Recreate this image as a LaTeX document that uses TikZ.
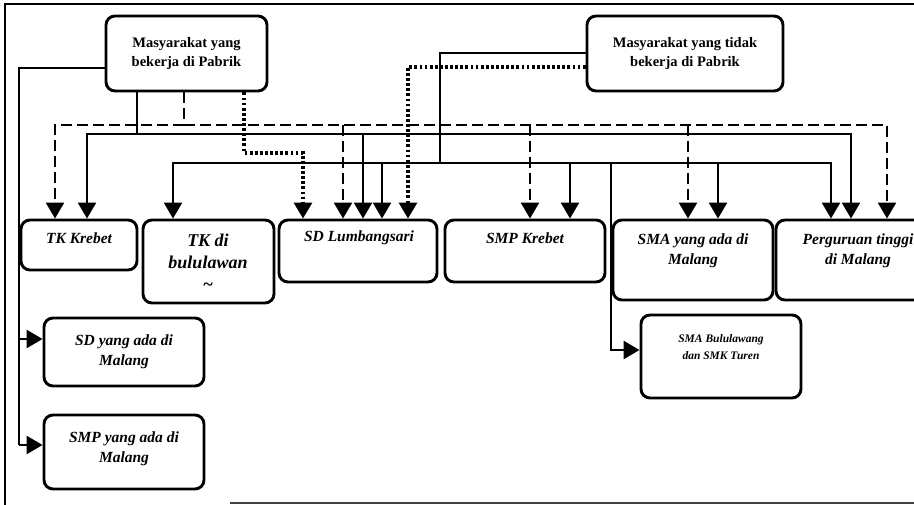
\documentclass[tikz,border=0pt]{standalone}
\usepackage{fontspec}
\setmainfont{Liberation Serif}
\usetikzlibrary{arrows.meta}
\tikzset{
  box/.style={draw, line width=2.9pt, rounded corners=9pt, inner sep=0pt},
  head/.style={align=center, inner sep=0pt, font={\fontsize{14.5}{19.5}\selectfont\bfseries}},
  tx/.style={align=center, inner sep=0pt, font={\fontsize{15.5}{19.5}\selectfont\bfseries\itshape}},
  conn/.style={line width=2.6pt},
  arr/.style={conn, -{Triangle[width=18pt,length=16pt]}},
  dsh/.style={conn, dash pattern=on 11pt off 5pt},
  dsharr/.style={dsh, -{Triangle[width=18pt,length=16pt]}},
  dot/.style={line width=3.2pt, dash pattern=on 2.8pt off 2.3pt},
  dotarr/.style={dot, -{Triangle[width=18pt,length=16pt]}},
  frame/.style={line width=2pt}
}
\begin{document}
\begin{tikzpicture}[x=1pt,y=-1pt]
\useasboundingbox (0,0) rectangle (914,505);
% frame
\draw[frame] (914,4) -- (5,4) -- (5,505);
\draw[line width=1.5pt, black!75] (230,503) -- (914,503);

% boxes
\node[box, minimum width=161pt, minimum height=75pt, head] (n1) at (186.5,53.5) {Masyarakat yang\\bekerja di Pabrik};
\node[box, minimum width=196pt, minimum height=75pt, head] (n2) at (685,53.5) {Masyarakat yang tidak\\bekerja di Pabrik};
\node[box, minimum width=116pt, minimum height=50pt] (tkk) at (79,245) {};
\node[box, minimum width=131pt, minimum height=83pt] (tkb) at (208.5,261.5) {};
\node[box, minimum width=158pt, minimum height=62pt] (sdl) at (358,251) {};
\node[box, minimum width=160pt, minimum height=62pt] (smpk) at (525,251) {};
\node[box, minimum width=160pt, minimum height=80pt] (sma) at (693,260) {};
\node[box, minimum width=164pt, minimum height=80pt] (pt) at (858,260) {};
\node[box, minimum width=160pt, minimum height=68pt] (sdm) at (124,352) {};
\node[box, minimum width=160pt, minimum height=74pt] (smpm) at (124,452) {};
\node[box, minimum width=160pt, minimum height=83pt] (smab) at (721,356.5) {};

% texts
\node[tx] (tkk-t) at (79,238) {TK Krebet};
\node[tx, font={\fontsize{18}{22}\selectfont\bfseries\itshape}] (tkb-t) at (208,262) {TK di\\bululawan\\\textasciitilde};
\node[tx] (sdl-t) at (359,238) {SD Lumbangsari};
\node[tx] (smpk-t) at (525,238) {SMP Krebet};
\node[tx] (sma-t) at (693,251) {SMA yang ada di\\Malang};
\node[tx] (pt-t) at (858,251) {Perguruan tinggi\\di Malang};
\node[tx] (sdm-t) at (124,352) {SD yang ada di\\Malang};
\node[tx] (smpm-t) at (124,449) {SMP yang ada di\\Malang};
\node[tx, font={\fontsize{11.5}{17}\selectfont\bfseries\itshape}] (smab-t) at (721,347) {SMA Bululawang\\dan SMK Turen};

% junction coordinates
\coordinate (j1) at (19,68);
\coordinate (j2) at (19,339);
\coordinate (j3) at (19,445);
\coordinate (s1) at (137,134);
\coordinate (a87) at (87,134);
\coordinate (a363) at (363,134);
\coordinate (a851) at (851,134);
\coordinate (s2) at (440,53);
\coordinate (s2b) at (440,163);
\coordinate (b173) at (173,163);
\coordinate (b382) at (382,163);
\coordinate (b570) at (570,163);
\coordinate (b611) at (611,163);
\coordinate (b611e) at (611,350);
\coordinate (b718) at (718,163);
\coordinate (b831) at (831,163);
\coordinate (d1) at (184,125);
\coordinate (d55) at (55,125);
\coordinate (d343) at (343,125);
\coordinate (d530) at (530,125);
\coordinate (d688) at (688,125);
\coordinate (d887) at (887,125);
\coordinate (p1) at (244,153);
\coordinate (p1e) at (303,153);
\coordinate (p2) at (408,67);

% left branch of n1
\draw[conn] (n1.west |- j1) -- (j1) -- (j3);
\draw[arr] (j2) -- (sdm.west |- j2);
\draw[arr] (j3) -- (smpm.west |- j3);

% n1 solid
\draw[conn] (n1.south -| s1) -- (s1);
\draw[arr] (s1) -- (a87) -- (tkk.north -| a87);
\draw[arr] (s1) -- (a851) -- (pt.north -| a851);
\draw[arr] (a363) -- (sdl.north -| a363);

% n2 solid
\draw[conn] (n2.west |- s2) -- (s2) -- (s2b);
\draw[arr] (s2b) -- (b173) -- (tkb.north -| b173);
\draw[arr] (s2b) -- (b831) -- (pt.north -| b831);
\draw[arr] (b382) -- (sdl.north -| b382);
\draw[arr] (b570) -- (smpk.north -| b570);
\draw[arr] (b718) -- (sma.north -| b718);
\draw[arr] (b611) -- (b611e) -- (smab.west |- b611e);

% n1 dashed
\draw[dsh] (n1.south -| d1) -- (d1);
\draw[dsharr] (d1) -- (d55) -- (tkk.north -| d55);
\draw[dsharr] (d1) -- (d887) -- (pt.north -| d887);
\draw[dsharr] (d343) -- (sdl.north -| d343);
\draw[dsharr] (d530) -- (smpk.north -| d530);
\draw[dsharr] (d688) -- (sma.north -| d688);

% dotted
\draw[dotarr] (n1.south -| p1) -- (p1) -- (p1e) -- (sdl.north -| p1e);
\draw[dotarr] (n2.west |- p2) -- (p2) -- (sdl.north -| p2);
\end{tikzpicture}
\end{document}
